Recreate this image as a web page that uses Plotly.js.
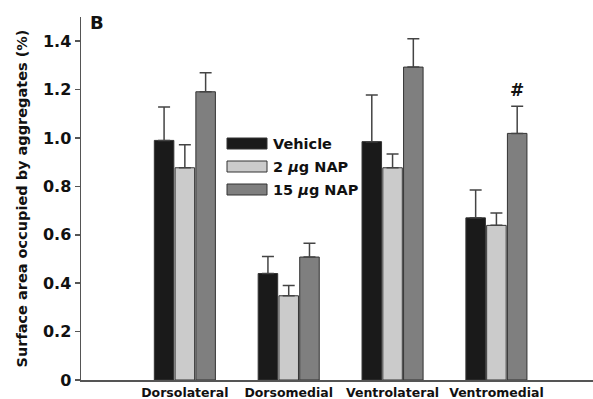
<!DOCTYPE html>
<html>
<head>
<meta charset="utf-8">
<script src="https://cdn.plot.ly/plotly-3.0.1.min.js"></script>
<style>html,body{margin:0;padding:0;background:#fff;}#chart{width:593px;height:399px;}</style>
</head>
<body>
<div id="chart"></div>
<script>
const regions = ["Dorsolateral", "Dorsomedial", "Ventrolateral", "Ventromedial"];
const seriesNames = ["Vehicle", "2 <i>μ</i>g NAP", "15 <i>μ</i>g NAP"];
const vehicle = [0.99, 0.44, 0.985, 0.67];
const vehicleErr = [0.138, 0.07, 0.193, 0.115];
const nap2 = [0.877, 0.348, 0.877, 0.639];
const nap2Err = [0.095, 0.043, 0.057, 0.051];
const nap15 = [1.191, 0.508, 1.293, 1.019];
const nap15Err = [0.079, 0.057, 0.117, 0.112];
const yTickVals = [0, 0.2, 0.4, 0.6, 0.8, 1.0, 1.2, 1.4];
const yTickText = ["0", "0.2", "0.4", "0.6", "0.8", "1.0", "1.2", "1.4"];
const markLabel = "#";

const FONT = "DejaVu Sans, Arial, sans-serif";
const colors = ["#1a1a1a", "#cbcbcb", "#7f7f7f"];
const xs = regions.map((_, i) => i);
const vals = [vehicle, nap2, nap15];
const errs = [vehicleErr, nap2Err, nap15Err];

const traces = vals.map((v, k) => ({
  type: "bar",
  name: seriesNames[k],
  x: xs,
  y: v,
  marker: {color: colors[k], line: {color: "#333", width: 1}},
  error_y: {type: "data", array: errs[k], arrayminus: v.map(() => 0), symmetric: false,
            color: "#444", thickness: 1.5, width: 6},
  showlegend: false
}));

// legend drawn as shapes + text
const plotL = 81, plotR = 593, plotT = 17, plotB = 380;
const px = x => (x - plotL) / (plotR - plotL);
const py = y => (plotB - y) / (plotB - plotT);
const shapes = [];
const annotations = [];
const legTops = [138, 161, 184];
seriesNames.forEach((n, k) => {
  shapes.push({type: "rect", xref: "paper", yref: "paper",
    x0: px(227), x1: px(267), y0: py(legTops[k] + 11), y1: py(legTops[k]),
    fillcolor: colors[k], line: {color: "#333", width: 1}});
  annotations.push({xref: "paper", yref: "paper", x: px(271), y: py(legTops[k] + 5.5),
    xanchor: "left", yanchor: "middle", showarrow: false, text: "<b>" + n + "</b>",
    font: {family: FONT, size: 14.5, color: "#111"}});
});
annotations.push({xref: "x", yref: "y", x: 3.2, y: 1.2, text: "<b>" + markLabel + "</b>",
  showarrow: false, xanchor: "center", yanchor: "middle",
  font: {family: FONT, size: 17, color: "#111"}});
annotations.push({xref: "paper", yref: "paper", x: px(88), y: py(22), text: "<b>B</b>",
  showarrow: false, xanchor: "left", yanchor: "middle",
  font: {family: FONT, size: 18, color: "#111"}});

const layout = {
  width: 593, height: 399,
  margin: {l: plotL, r: 593 - plotR, t: plotT, b: 399 - plotB},
  paper_bgcolor: "#fff", plot_bgcolor: "#fff",
  barmode: "group", bargap: 0.4, bargroupgap: 0.06,
  font: {family: FONT, color: "#111"},
  xaxis: {
    range: [-1, 3.93], tickvals: xs, ticktext: regions.map(r => "<b>" + r + "</b>"),
    tickangle: 0,
    showline: true, linecolor: "#555", linewidth: 1.5, ticks: "", showgrid: false,
    zeroline: false, tickfont: {family: FONT, size: 12.5, color: "#111"}, fixedrange: true
  },
  yaxis: {
    range: [0, 1.5], tickvals: yTickVals, ticktext: yTickText.map(t => "<b>" + t + "</b>"),
    showline: true, linecolor: "#555", linewidth: 1.5, ticks: "outside", ticklen: 5,
    tickcolor: "#555", tickwidth: 1.5, showgrid: false, zeroline: false,
    tickfont: {family: FONT, size: 16, color: "#111"},
    title: {text: "<b>Surface area occupied by aggregates (%)</b>", font: {family: FONT, size: 14.5, color: "#111"}, standoff: 12}
  },
  shapes: shapes,
  annotations: annotations
};

Plotly.newPlot("chart", traces, layout, {displayModeBar: false, staticPlot: true});
</script>
</body>
</html>
